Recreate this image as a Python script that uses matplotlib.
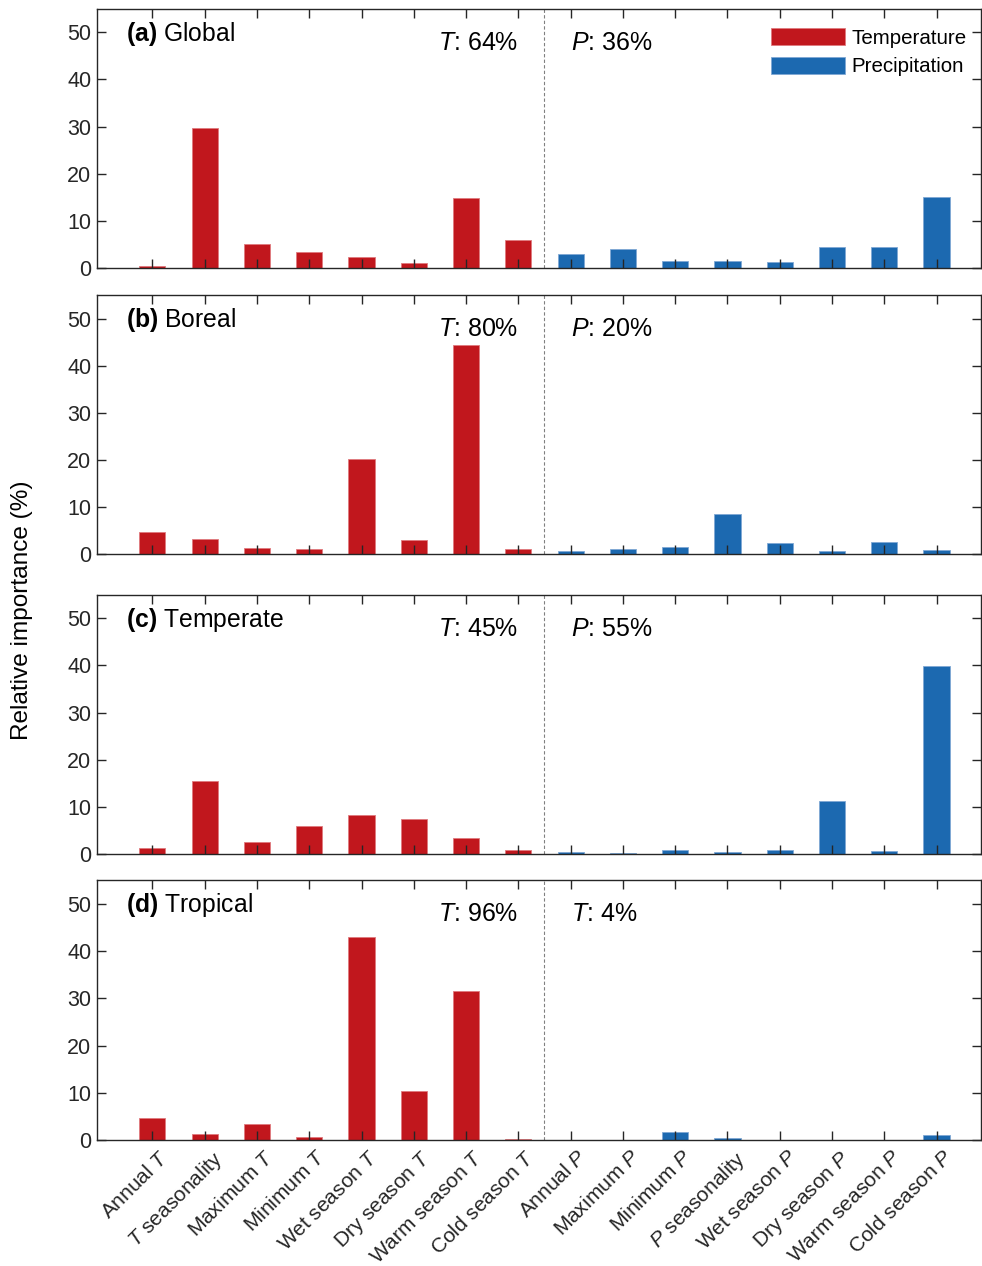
import matplotlib.pyplot as plt
import matplotlib.transforms as mtransforms
import numpy as np

plt.rcParams['font.family'] = ['Liberation Sans', 'DejaVu Sans']
plt.rcParams['mathtext.fontset'] = 'custom'
plt.rcParams['mathtext.rm'] = 'Liberation Sans'
plt.rcParams['mathtext.it'] = 'Liberation Sans:italic'
plt.rcParams['mathtext.bf'] = 'Liberation Sans:bold'

# Predictor names (x axis).
labels = ['Annual $T$', '$T$ seasonality', 'Maximum $T$', 'Minimum $T$',
          'Wet season $T$', 'Dry season $T$', 'Warm season $T$', 'Cold season $T$',
          'Annual $P$', 'Maximum $P$', 'Minimum $P$', '$P$ seasonality',
          'Wet season $P$', 'Dry season $P$', 'Warm season $P$', 'Cold season $P$']

# Relative importance (%) for each region.
global_T = [0.5, 29.7, 5.1, 3.5, 2.4, 1.1, 14.8, 6.0]
global_P = [3.0, 4.0, 1.5, 1.6, 1.3, 4.5, 4.6, 15.0]
boreal_T = [4.7, 3.2, 1.3, 1.1, 20.2, 3.0, 44.4, 1.1]
boreal_P = [0.6, 1.2, 1.6, 8.6, 2.5, 0.6, 2.6, 0.9]
temperate_T = [1.3, 15.5, 2.5, 6.0, 8.4, 7.4, 3.4, 0.9]
temperate_P = [0.4, 0.35, 0.9, 0.4, 0.9, 11.2, 0.7, 39.8]
tropical_T = [4.6, 1.3, 3.5, 0.7, 42.9, 10.3, 31.6, 0.2]
tropical_P = [0.1, 0.0, 1.7, 0.4, 0.0, 0.0, 0.0, 1.0]

panel_tags = ['(a)', '(b)', '(c)', '(d)']
panel_names = ['Global', 'Boreal', 'Temperate', 'Tropical']
t_text = ['$T$: 64%', '$T$: 80%', '$T$: 45%', '$T$: 96%']
p_text = ['$P$: 36%', '$P$: 20%', '$P$: 55%', '$T$: 4%']

temp_vals = [global_T, boreal_T, temperate_T, tropical_T]
prec_vals = [global_P, boreal_P, temperate_P, tropical_P]

red = '#C1171D'
blue = '#1C69B0'
axis_col = '#262626'

fig = plt.figure(figsize=(9.82, 12.66), dpi=100)

# axes boxes in pixels (top, bottom) of the 1266 px high figure
boxes = [(8.7, 268.3), (295.0, 554.3), (594.5, 854.3), (880.0, 1140.2)]
left, width = 97 / 982, 884.5 / 982

xt = np.arange(1, 9)
xp = np.arange(9, 17)

for i, (top, bot) in enumerate(boxes):
    ax = fig.add_axes([left, 1 - bot / 1266, width, (bot - top) / 1266])
    ax.bar(xt, temp_vals[i], width=0.5, color=red, edgecolor='#E07a7e', linewidth=0.6,
           label='Temperature')
    ax.bar(xp, prec_vals[i], width=0.5, color=blue, edgecolor='#7fa8d4', linewidth=0.6,
           label='Precipitation')
    ax.axvline(8.5, color='#808080', linestyle=(0, (3, 2)), linewidth=0.8)

    ax.set_xlim(-0.06, 16.86)
    ax.set_ylim(0, 55)
    ax.set_yticks([0, 10, 20, 30, 40, 50])
    ax.set_xticks(np.arange(1, 17))
    ax.tick_params(direction='in', length=6.5, width=1, color=axis_col,
                   labelcolor=axis_col, labelsize=15.5, top=True, right=True, pad=4)
    ax.tick_params(axis='x', pad=5)
    for s in ax.spines.values():
        s.set_color(axis_col)
        s.set_linewidth(1)

    if i == 3:
        ax.set_xticklabels(labels, rotation=45, ha='right', va='top',
                           rotation_mode='anchor', fontsize=15)
        # shift the rotated labels a little to the right, like the original
        shift = mtransforms.ScaledTranslation(0.07, 0, fig.dpi_scale_trans)
        for lab in ax.get_xticklabels():
            lab.set_transform(lab.get_transform() + shift)
    else:
        ax.set_xticklabels([])

    ax.text(0.5, 49.7, r'$\bf{' + panel_tags[i] + '}$ ' + panel_names[i],
            fontsize=17.8, ha='left', va='center', color='black')
    ax.text(8.0, 47.8, t_text[i], fontsize=18, ha='right', va='center', color='black')
    ax.text(9.0, 47.8, p_text[i], fontsize=18, ha='left', va='center', color='black')

    if i == 0:
        ax.legend(loc='upper left', bbox_to_anchor=(0.762, 0.925), frameon=False,
                  fontsize=14.8, handlelength=3.6, handleheight=0.92,
                  handletextpad=0.32, labelspacing=0.42, borderpad=0,
                  borderaxespad=0)

fig.text(0.022, 0.518, 'Relative importance (%)', rotation=90, fontsize=17.6,
         ha='center', va='center', color='black')

fig.savefig('out.png', dpi=100)
